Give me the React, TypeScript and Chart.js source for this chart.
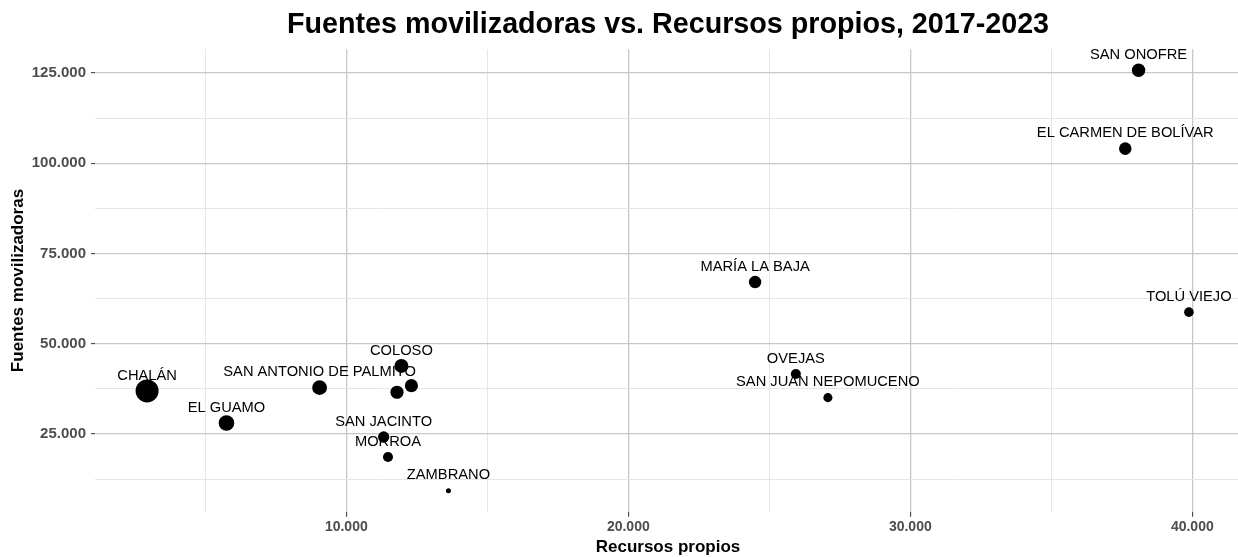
import { useEffect, useRef } from 'react';
import { Chart, registerables } from 'chart.js';

Chart.register(...registerables);

// ---- Data ----
const municipios = [
  'CHALÁN',
  'EL GUAMO',
  'SAN ANTONIO DE PALMITO',
  'COLOSO',
  'LOS PALMITOS',
  'CÓRDOBA',
  'SAN JACINTO',
  'MORROA',
  'ZAMBRANO',
  'MARÍA LA BAJA',
  'OVEJAS',
  'SAN JUAN NEPOMUCENO',
  'TOLÚ VIEJO',
  'EL CARMEN DE BOLÍVAR',
  'SAN ONOFRE',
];
const recursosPropios = [
  2936, 5751, 9053, 11954, 12309, 11798, 11325, 11478, 13622, 24496, 25941, 27077, 39879, 37622, 38094,
];
const fuentesMovilizadoras = [
  36900, 28024, 37816, 43835, 38370, 36540, 24140, 18592, 9244, 67053, 41616, 35042, 58731, 104029, 125749,
];
// labels dropped in the reference because of overlap
const etiquetaVisible = [
  true, true, true, true, false, false, true, true, true, true, true, true, true, true, true,
];

// tick values (major = labelled, minor = grid only)
const xMajorTicks = [10000, 20000, 30000, 40000];
const xMinorTicks = [5000, 15000, 25000, 35000];
const yMajorTicks = [25000, 50000, 75000, 100000, 125000];
const yMinorTicks = [12500, 37500, 62500, 87500, 112500];

const TITLE = 'Fuentes movilizadoras vs. Recursos propios, 2017-2023';
const X_TITLE = 'Recursos propios';
const Y_TITLE = 'Fuentes movilizadoras';

const FONT = '"Liberation Sans", Arial, Helvetica, sans-serif';

// ---- Scales derived from data (ggplot-like 5% expansion, area size scale) ----
const expand = (arr: number[]) => {
  const mn = Math.min(...arr);
  const mx = Math.max(...arr);
  const pad = (mx - mn) * 0.05;
  return [mn - pad, mx + pad];
};
const [xMin, xMax] = expand(recursosPropios);
const [yMin, yMax] = expand(fuentesMovilizadoras);

const ratios = fuentesMovilizadoras.map((v, i) => v / recursosPropios[i]);
const rMinVal = Math.min(...ratios);
const rMaxVal = Math.max(...ratios);
const R_MIN = 2.5;
const R_MAX = 11.5;
const radiusOf = (v: number) => R_MIN + (R_MAX - R_MIN) * Math.sqrt((v - rMinVal) / (rMaxVal - rMinVal));

const fmt = (v: number) => String(Math.round(v)).replace(/\B(?=(\d{3})+(?!\d))/g, '.');

const MAJOR = '#c8c8c8';
const MINOR = '#e6e6e6';

const isMajor = (arr: number[], c: any) => !!(c.tick && arr.includes(c.tick.value));

const textPlugin = {
  id: 'textPlugin',
  afterDatasetsDraw(chart: any) {
    const ctx = chart.ctx;
    const meta = chart.getDatasetMeta(0);
    ctx.save();
    ctx.font = `14.7px ${FONT}`;
    ctx.fillStyle = '#000000';
    ctx.textAlign = 'center';
    ctx.textBaseline = 'alphabetic';
    meta.data.forEach((el: any, i: number) => {
      if (!etiquetaVisible[i]) return;
      ctx.fillText(municipios[i], el.x, el.y - 11.3);
    });
    ctx.restore();
  },
  afterDraw(chart: any) {
    const ctx = chart.ctx;
    const a = chart.chartArea;
    const cx = (a.left + a.right) / 2;
    const cy = (a.top + a.bottom) / 2;
    ctx.save();
    ctx.fillStyle = '#000000';
    ctx.textAlign = 'center';
    ctx.textBaseline = 'alphabetic';
    ctx.font = `bold 28.7px ${FONT}`;
    ctx.fillText(TITLE, cx, 33.3);
    ctx.font = `bold 17px ${FONT}`;
    ctx.textBaseline = 'middle';
    ctx.fillText(X_TITLE, cx, 547);
    ctx.translate(18, cy);
    ctx.rotate(-Math.PI / 2);
    ctx.fillText(Y_TITLE, 0, 0);
    ctx.restore();
  },
};

export default function App() {
  const ref = useRef<HTMLCanvasElement | null>(null);

  useEffect(() => {
    document.body.style.margin = '0';
    document.body.style.overflow = 'hidden';
    if (!ref.current) return;
    const points = recursosPropios.map((x, i) => ({
      x,
      y: fuentesMovilizadoras[i],
      r: radiusOf(ratios[i]),
    }));
    const chart = new Chart(ref.current, {
      type: 'bubble',
      data: {
        datasets: [
          {
            data: points,
            backgroundColor: '#000000',
            borderColor: '#000000',
            borderWidth: 0,
            clip: false,
          },
        ],
      },
      options: {
        responsive: false,
        animation: false,
        events: [],
        layout: { autoPadding: false, padding: { top: 49.2, left: 0, right: 0, bottom: 0 } },
        plugins: {
          legend: { display: false },
          tooltip: { enabled: false },
          title: { display: false },
        },
        scales: {
          x: {
            type: 'linear',
            position: 'bottom',
            min: xMin,
            max: xMax,
            border: { display: false },
            grid: {
              color: (c: any) => (isMajor(xMajorTicks, c) ? MAJOR : MINOR),
              lineWidth: (c: any) => (isMajor(xMajorTicks, c) ? 1.3 : 1),
              tickColor: (c: any) => (isMajor(xMajorTicks, c) ? '#333333' : 'rgba(0,0,0,0)'),
              tickLength: 5,
              tickWidth: 1,
            },
            afterBuildTicks: (s: any) => {
              s.ticks = [...xMinorTicks, ...xMajorTicks].sort((a, b) => a - b).map((v) => ({ value: v }));
            },
            ticks: {
              autoSkip: false,
              maxRotation: 0,
              minRotation: 0,
              padding: 2,
              color: '#4d4d4d',
              font: { family: FONT, size: 14, weight: 'bold' },
              callback: (v: any) => (xMajorTicks.includes(Number(v)) ? fmt(Number(v)) : ''),
            },
            afterFit: (s: any) => {
              s.height = 557 - 511.8;
              s.paddingLeft = 0;
              s.paddingRight = 0;
            },
          },
          y: {
            type: 'linear',
            position: 'left',
            min: yMin,
            max: yMax,
            border: { display: false },
            grid: {
              color: (c: any) => (isMajor(yMajorTicks, c) ? MAJOR : MINOR),
              lineWidth: (c: any) => (isMajor(yMajorTicks, c) ? 1.3 : 1),
              tickColor: (c: any) => (isMajor(yMajorTicks, c) ? '#333333' : 'rgba(0,0,0,0)'),
              tickLength: 4,
              tickWidth: 1,
            },
            afterBuildTicks: (s: any) => {
              s.ticks = [...yMinorTicks, ...yMajorTicks].sort((a, b) => a - b).map((v) => ({ value: v }));
            },
            ticks: {
              autoSkip: false,
              padding: 5,
              color: '#4d4d4d',
              font: { family: FONT, size: 15, weight: 'bold' },
              callback: (v: any) => (yMajorTicks.includes(Number(v)) ? fmt(Number(v)) : ''),
            },
            afterFit: (s: any) => {
              s.width = 95;
              s.paddingTop = 0;
              s.paddingBottom = 0;
            },
          },
        },
      },
      plugins: [textPlugin],
    } as any);
    return () => chart.destroy();
  }, []);

  return (
    <div
      style={{
        position: 'absolute',
        left: 0,
        top: 0,
        width: 1238,
        height: 557,
        overflow: 'hidden',
        background: '#ffffff',
      }}
    >
      <canvas ref={ref} width={1241} height={557} style={{ display: 'block' }} />
    </div>
  );
}
